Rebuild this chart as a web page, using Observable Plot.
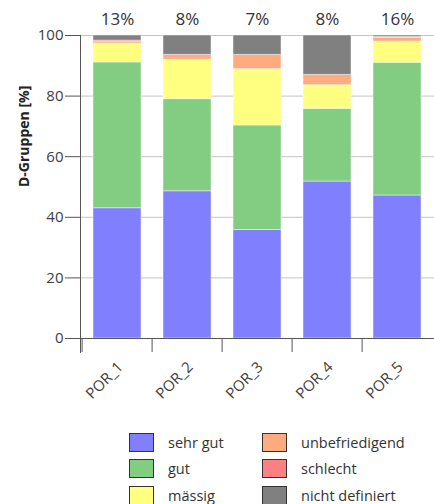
<!DOCTYPE html>
<html>
<head>
<meta charset="utf-8">
<script src="https://cdn.jsdelivr.net/npm/d3@7"></script>
<script src="https://cdn.jsdelivr.net/npm/@observablehq/plot@0.6"></script>
<style>
  body { margin: 0; background: white; font-family: "Open Sans", sans-serif; }
  #wrap { position: relative; width: 434px; height: 504px; overflow: hidden; }
  #legend { position: absolute; left: 129px; top: 433px; display: grid;
    grid-template-columns: 133px auto; row-gap: 8.5px; }
  .item { display: flex; align-items: center; height: 18px; font-size: 14.5px; color: #333; }
  .sw { width: 23px; height: 17px; border: 1px solid #333; margin-right: 14px; box-sizing: content-box; }
</style>
</head>
<body>
<div id="wrap"><div id="chart"></div><div id="legend"></div></div>
<script>
const categories = ["POR_1", "POR_2", "POR_3", "POR_4", "POR_5"];
const groups = ["sehr gut", "gut", "mässig", "unbefriedigend", "schlecht", "nicht definiert"];
const colors = ["#8080ff", "#82cd82", "#ffff80", "#ffab80", "#ff8080", "#808080"];
const sehrGut        = [43.0, 48.6, 35.8, 51.8, 47.2];
const gut            = [48.1, 30.4, 34.5, 24.0, 43.8];
const maessig        = [6.2, 13.0, 18.6, 7.8, 7.0];
const unbefriedigend = [0.5, 1.6, 4.7, 3.4, 1.2];
const schlecht       = [0.5, 0.0, 0.0, 0.0, 0.3];
const nichtDefiniert = [1.7, 6.4, 6.4, 13.0, 0.5];
const topLabels = ["13%", "8%", "7%", "8%", "16%"];
const yTicks = [0, 20, 40, 60, 80, 100];
const yLabel = "D-Gruppen [%]";

const series = [sehrGut, gut, maessig, unbefriedigend, schlecht, nichtDefiniert];
const rows = [];
categories.forEach((c, i) => {
  groups.forEach((g, j) => rows.push({cat: c, group: g, value: series[j][i]}));
});

const W = 434, ML = 80, MR = 0;
const step = (W - ML - MR) / categories.length;

const chart = Plot.plot({
  width: W, height: 425,
  marginLeft: ML, marginRight: MR, marginTop: 35, marginBottom: 87,
  style: {fontFamily: "Open Sans", fontSize: "15px", color: "#404040", background: "white"},
  x: {domain: categories, paddingInner: 0.31, paddingOuter: 0.155, axis: null},
  y: {domain: [0, 100], axis: null},
  color: {domain: groups, range: colors},
  marks: [
    Plot.gridY(yTicks, {stroke: "#c4c4c4", strokeOpacity: 1}),
    Plot.barY(rows, {x: "cat", y: "value", fill: "group", stroke: "white", strokeOpacity: 0.45, strokeWidth: 1}),
    Plot.ruleY([0], {stroke: "#555"}),
    Plot.frame({anchor: "left", stroke: "#555", insetBottom: -14}),
    Plot.axisY(yTicks, {tickSize: 15, tickPadding: 2, stroke: "#555", fill: "#404040", label: null, fontSize: 15}),
    Plot.axisX({tickSize: 14, tickFormat: () => "", dx: -step / 2, stroke: "#555", label: null}),
    Plot.axisX({tickSize: 0, tickPadding: 26, tickRotate: -45, dx: 3, fontSize: 15, fill: "#404040", label: null}),
    Plot.text(categories, {x: d => d, y: 100, text: (d, i) => topLabels[i], dy: -16, fontSize: 17, fill: "#333"}),
    Plot.text([yLabel], {frameAnchor: "left", dx: -56, rotate: -90, fontWeight: "bold", fontSize: 14, fill: "#222"})
  ]
});
document.getElementById("chart").appendChild(chart);

// legend (column-wise order)
const legend = document.getElementById("legend");
const order = [0, 3, 1, 4, 2, 5];
order.forEach(k => {
  const it = document.createElement("div");
  it.className = "item";
  const sw = document.createElement("span");
  sw.className = "sw";
  sw.style.background = colors[k];
  it.appendChild(sw);
  it.appendChild(document.createTextNode(groups[k]));
  legend.appendChild(it);
});
</script>
</body>
</html>
